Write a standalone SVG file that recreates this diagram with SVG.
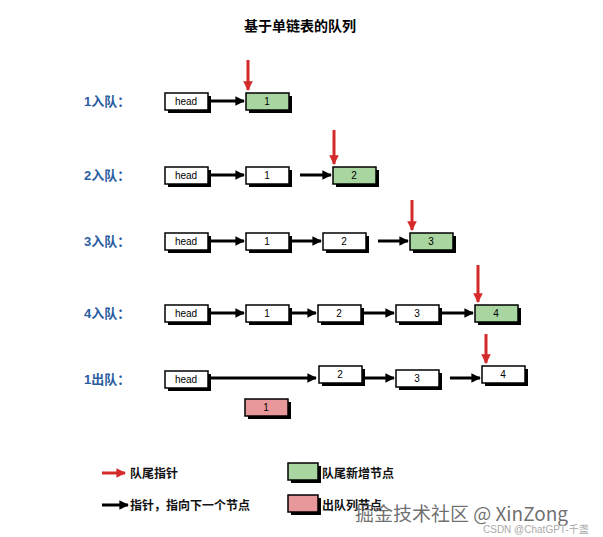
<svg xmlns="http://www.w3.org/2000/svg" width="603" height="537" viewBox="0 0 603 537">
<defs>
<marker id="bk" viewBox="0 0 10 10" refX="9" refY="5" markerWidth="3.2" markerHeight="3.2" orient="auto"><path d="M0,0L10,5L0,10z" fill="#000"/></marker>
<marker id="rd" viewBox="0 0 10 10" refX="9" refY="5" markerWidth="3.2" markerHeight="3.2" orient="auto"><path d="M0,0L10,5L0,10z" fill="#d42a2a"/></marker>
<style>
.b{fill:#fff;stroke:#000;stroke-width:1.5}
.g{fill:#a8d5a0}.p{fill:#e8989a}
.s{fill:#000}
.t{font-family:"Liberation Sans",Arial,sans-serif;font-size:10px;text-anchor:middle}
.l{font-family:"Liberation Sans","Noto Sans CJK SC",sans-serif;font-size:13px;font-weight:bold;fill:#2a5d9f}
.k{font-family:"Liberation Sans","Noto Sans CJK SC",sans-serif;font-size:12px;font-weight:bold;fill:#111}
.a{stroke:#000;stroke-width:3;fill:none;marker-end:url(#bk)}
.r{stroke:#d42a2a;stroke-width:3;fill:none;marker-end:url(#rd)}
</style>
</defs>
<rect width="603" height="537" fill="#fff"/>
<text x="300" y="31" text-anchor="middle" font-family="'Noto Sans CJK SC',sans-serif" font-size="14" font-weight="bold">基于单链表的队列</text>
<g id="labels">
<text class="l" x="84" y="106">1入队：</text>
<text class="l" x="84" y="180">2入队：</text>
<text class="l" x="84" y="246">3入队：</text>
<text class="l" x="84" y="318">4入队：</text>
<text class="l" x="84" y="384">1出队：</text>
</g>
<g id="nodes">
<!-- row1 -->
<g id="r1h"><rect class="s" x="168" y="96" width="43" height="17"/><rect class="b" x="165" y="93" width="43" height="17"/><text class="t" x="186" y="105">head</text></g>
<g id="r1n1"><rect class="s" x="249" y="96" width="43" height="17"/><rect class="b g" x="246" y="93" width="43" height="17"/><text class="t" x="267" y="105">1</text></g>
<!-- row2 -->
<g id="r2h"><rect class="s" x="168" y="170" width="43" height="17"/><rect class="b" x="165" y="167" width="43" height="17"/><text class="t" x="186" y="179">head</text></g>
<g id="r2n1"><rect class="s" x="249" y="170" width="43" height="17"/><rect class="b" x="246" y="167" width="43" height="17"/><text class="t" x="267" y="179">1</text></g>
<g id="r2n2"><rect class="s" x="336" y="170" width="43" height="17"/><rect class="b g" x="333" y="167" width="43" height="17"/><text class="t" x="354" y="179">2</text></g>
<!-- row3 -->
<g id="r3h"><rect class="s" x="168" y="236" width="43" height="17"/><rect class="b" x="165" y="233" width="43" height="17"/><text class="t" x="186" y="245">head</text></g>
<g id="r3n1"><rect class="s" x="249" y="236" width="43" height="17"/><rect class="b" x="246" y="233" width="43" height="17"/><text class="t" x="267" y="245">1</text></g>
<g id="r3n2"><rect class="s" x="326" y="236" width="43" height="17"/><rect class="b" x="323" y="233" width="43" height="17"/><text class="t" x="344" y="245">2</text></g>
<g id="r3n3"><rect class="s" x="413" y="236" width="43" height="17"/><rect class="b g" x="410" y="233" width="43" height="17"/><text class="t" x="431" y="245">3</text></g>
<!-- row4 -->
<g id="r4h"><rect class="s" x="168" y="308" width="43" height="17"/><rect class="b" x="165" y="305" width="43" height="17"/><text class="t" x="186" y="317">head</text></g>
<g id="r4n1"><rect class="s" x="249" y="308" width="43" height="17"/><rect class="b" x="246" y="305" width="43" height="17"/><text class="t" x="267" y="317">1</text></g>
<g id="r4n2"><rect class="s" x="321" y="308" width="43" height="17"/><rect class="b" x="318" y="305" width="43" height="17"/><text class="t" x="339" y="317">2</text></g>
<g id="r4n3"><rect class="s" x="399" y="308" width="43" height="17"/><rect class="b" x="396" y="305" width="43" height="17"/><text class="t" x="417" y="317">3</text></g>
<g id="r4n4"><rect class="s" x="478" y="308" width="43" height="17"/><rect class="b g" x="475" y="305" width="43" height="17"/><text class="t" x="496" y="317">4</text></g>
<!-- row5 -->
<g id="r5h"><rect class="s" x="168" y="374" width="43" height="17"/><rect class="b" x="165" y="371" width="43" height="17"/><text class="t" x="186" y="383">head</text></g>
<g id="r5n2"><rect class="s" x="322" y="369" width="43" height="17"/><rect class="b" x="319" y="366" width="43" height="17"/><text class="t" x="340" y="378">2</text></g>
<g id="r5n3"><rect class="s" x="399" y="373" width="43" height="17"/><rect class="b" x="396" y="370" width="43" height="17"/><text class="t" x="417" y="382">3</text></g>
<g id="r5n4"><rect class="s" x="485" y="369" width="43" height="17"/><rect class="b" x="482" y="366" width="43" height="17"/><text class="t" x="503" y="378">4</text></g>
<g id="r5n1"><rect class="s" x="248" y="402" width="43" height="17"/><rect class="b p" x="245" y="399" width="43" height="17"/><text class="t" x="266" y="411">1</text></g>
</g>
<g id="connectors">
<line class="a" x1="211" y1="101" x2="244" y2="101"/>
<line class="r" x1="248" y1="60" x2="248" y2="90"/>
<line class="a" x1="211" y1="175" x2="244" y2="175"/>
<line class="a" x1="300" y1="175" x2="331" y2="175"/>
<line class="r" x1="334" y1="130" x2="334" y2="164"/>
<line class="a" x1="211" y1="241" x2="244" y2="241"/>
<line class="a" x1="292" y1="241" x2="321" y2="241"/>
<line class="a" x1="378" y1="241" x2="408" y2="241"/>
<line class="r" x1="412" y1="200" x2="412" y2="230"/>
<line class="a" x1="211" y1="313" x2="244" y2="313"/>
<line class="a" x1="292" y1="313" x2="316" y2="313"/>
<line class="a" x1="364" y1="313" x2="394" y2="313"/>
<line class="a" x1="442" y1="313" x2="473" y2="313"/>
<line class="r" x1="478" y1="265" x2="478" y2="302"/>
<line class="a" x1="211" y1="378" x2="316" y2="378"/>
<line class="a" x1="365" y1="378" x2="394" y2="378"/>
<line class="a" x1="450" y1="378" x2="480" y2="378"/>
<line class="r" x1="486" y1="334" x2="486" y2="363"/>
</g>
<g id="legend">
<line class="r" x1="102" y1="473" x2="125" y2="473"/>
<text class="k" x="130" y="478">队尾指针</text>
<rect class="s" x="291" y="466" width="30" height="17"/><rect class="b g" x="288" y="463" width="30" height="17"/>
<text class="k" x="322" y="478">队尾新增节点</text>
<line class="a" x1="102" y1="505" x2="128" y2="505"/>
<text class="k" x="130" y="510">指针，指向下一个节点</text>
<rect class="s" x="291" y="498" width="30" height="17"/><rect class="b p" x="288" y="495" width="30" height="17"/>
<text class="k" x="322" y="510">出队列节点</text>
</g>
<text x="355" y="521" font-family="'Noto Sans CJK SC',sans-serif" font-size="19" fill="#555" fill-opacity="0.85">掘金技术社区 @ XinZong</text>
<text x="483" y="533" font-family="'Liberation Sans','Noto Sans CJK SC',sans-serif" font-size="10" fill="#aaa">CSDN @ChatGPT-千盏</text>
</svg>
